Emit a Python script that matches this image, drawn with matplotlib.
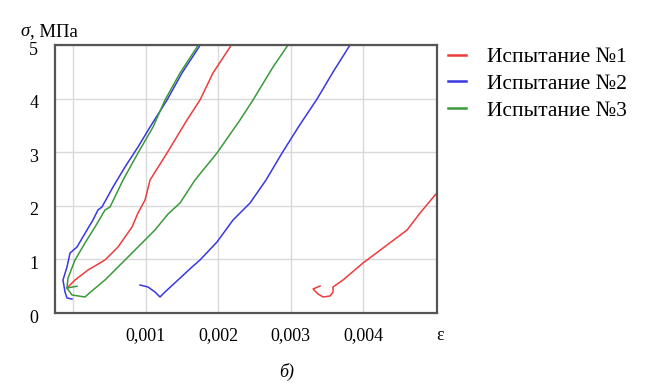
"""Stress-strain curves for three tests (reference recreation)."""
import numpy as np
import matplotlib
matplotlib.use("Agg")
import matplotlib.pyplot as plt
from matplotlib.transforms import ScaledTranslation

plt.rcParams["font.family"] = ["Liberation Serif", "DejaVu Serif"]

# strain in units of 1e-3, stress in MPa
eps1a = [-0.083, 0.028, 0.207, 0.441, 0.620, 0.813, 0.895, 0.992, 1.061, 1.295, 1.570, 1.749, 1.928, 2.163, 2.176]
sig1a = [0.466, 0.616, 0.802, 0.989, 1.231, 1.605, 1.866, 2.108, 2.481, 2.985, 3.601, 3.974, 4.478, 4.963, 5.0]
eps1b = [3.402, 3.306, 3.375, 3.444, 3.540, 3.581, 3.581, 3.719, 3.994, 4.270, 4.601, 4.780, 4.986, 5.014]
sig1b = [0.504, 0.448, 0.354, 0.299, 0.317, 0.392, 0.485, 0.616, 0.933, 1.213, 1.549, 1.866, 2.201, 2.239]

eps2a = [-0.014, -0.083, -0.110, -0.138, -0.083, -0.041, 0.055, 0.193, 0.275, 0.344, 0.399, 0.551,
         0.716, 0.895, 1.061, 1.295, 1.501, 1.736, 1.749]
sig2a = [0.261, 0.280, 0.392, 0.616, 0.858, 1.119, 1.231, 1.549, 1.735, 1.922, 1.978, 2.351,
         2.724, 3.097, 3.470, 3.974, 4.478, 4.963, 5.0]
eps2b = [0.923, 1.033, 1.129, 1.198, 1.267, 1.446, 1.639, 1.749, 1.983, 2.204, 2.438, 2.658,
         2.879, 3.113, 3.361, 3.581, 3.815]
sig2b = [0.522, 0.485, 0.392, 0.299, 0.392, 0.616, 0.858, 0.989, 1.325, 1.735, 2.052, 2.481,
         2.985, 3.489, 3.993, 4.496, 5.0]

eps3a = [0.055, -0.083, -0.069, 0.028, 0.165, 0.303, 0.441, 0.510, 0.689, 0.895, 1.102, 1.267, 1.474, 1.708, 1.722]
sig3a = [0.50, 0.466, 0.653, 0.989, 1.306, 1.604, 1.922, 1.978, 2.481, 2.985, 3.470, 3.974, 4.478, 4.963, 5.0]
eps3b = [-0.083, -0.014, 0.165, 0.275, 0.441, 0.675, 0.895, 1.129, 1.309, 1.474, 1.680, 1.983,
         2.300, 2.479, 2.755, 2.961]
sig3b = [0.466, 0.336, 0.299, 0.429, 0.616, 0.933, 1.231, 1.549, 1.847, 2.052, 2.481, 2.985,
         3.601, 3.974, 4.590, 5.0]

labels = ["Испытание №1", "Испытание №2", "Испытание №3"]
colors = ["#ee3b3b", "#3838e0", "#3a9a3a"]
xticks = [0.0, 0.001, 0.002, 0.003, 0.004]
xticklabels = ["", "0,001", "0,002", "0,003", "0,004"]
yticks = [0, 1, 2, 3, 4, 5]

fig = plt.figure(figsize=(6.5, 3.87), dpi=100)
ax = fig.add_axes([0.0846, 0.1912, 0.5874, 0.6925])

series = [(eps1a, sig1a, eps1b, sig1b), (eps2a, sig2a, eps2b, sig2b), (eps3a, sig3a, eps3b, sig3b)]
for (ea, sa, eb, sb), lab, c in zip(series, labels, colors):
    ax.plot(np.array(ea) * 1e-3, sa, color=c, lw=1.1, label=lab)
    ax.plot(np.array(eb) * 1e-3, sb, color=c, lw=1.1)

ax.set_xlim(-0.000248, 0.00501)
ax.set_ylim(0, 5)
ax.set_xticks(xticks)
ax.set_xticklabels(xticklabels)
ax.set_yticks(yticks)
ax.tick_params(length=0, labelsize=13)
ax.tick_params(axis="x", pad=10)
ax.tick_params(axis="y", pad=12)
# y labels sit a few pixels below their gridlines in the original
shift = ScaledTranslation(0, -3 / 100, fig.dpi_scale_trans)
for t in ax.get_yticklabels():
    t.set_transform(t.get_transform() + shift)
ax.grid(True, color="#d9d9d9", lw=1)
ax.set_axisbelow(True)
for s in ax.spines.values():
    s.set_color("#555555")
    s.set_linewidth(1.6)

fig.text(20 / 650, 1 - 32 / 387, "σ", fontsize=13.5, style="italic", ha="left", va="center")
fig.text(30 / 650, 1 - 32 / 387, ", МПа", fontsize=13.5, ha="left", va="center")
fig.text(440 / 650, 1 - 336 / 387, "ε", fontsize=13, ha="center", va="center")
fig.text(287 / 650, 1 - 372 / 387, "б)", fontsize=13, style="italic", ha="center", va="center")

leg = fig.legend(loc="upper left", bbox_to_anchor=(429 / 650, 1 - 28 / 387), frameon=False,
                 fontsize=15.5, handlelength=0.8, handletextpad=1.0, labelspacing=0.3)
for h in leg.get_lines():
    h.set_linewidth(1.8)

fig.savefig("out.png", dpi=100)
